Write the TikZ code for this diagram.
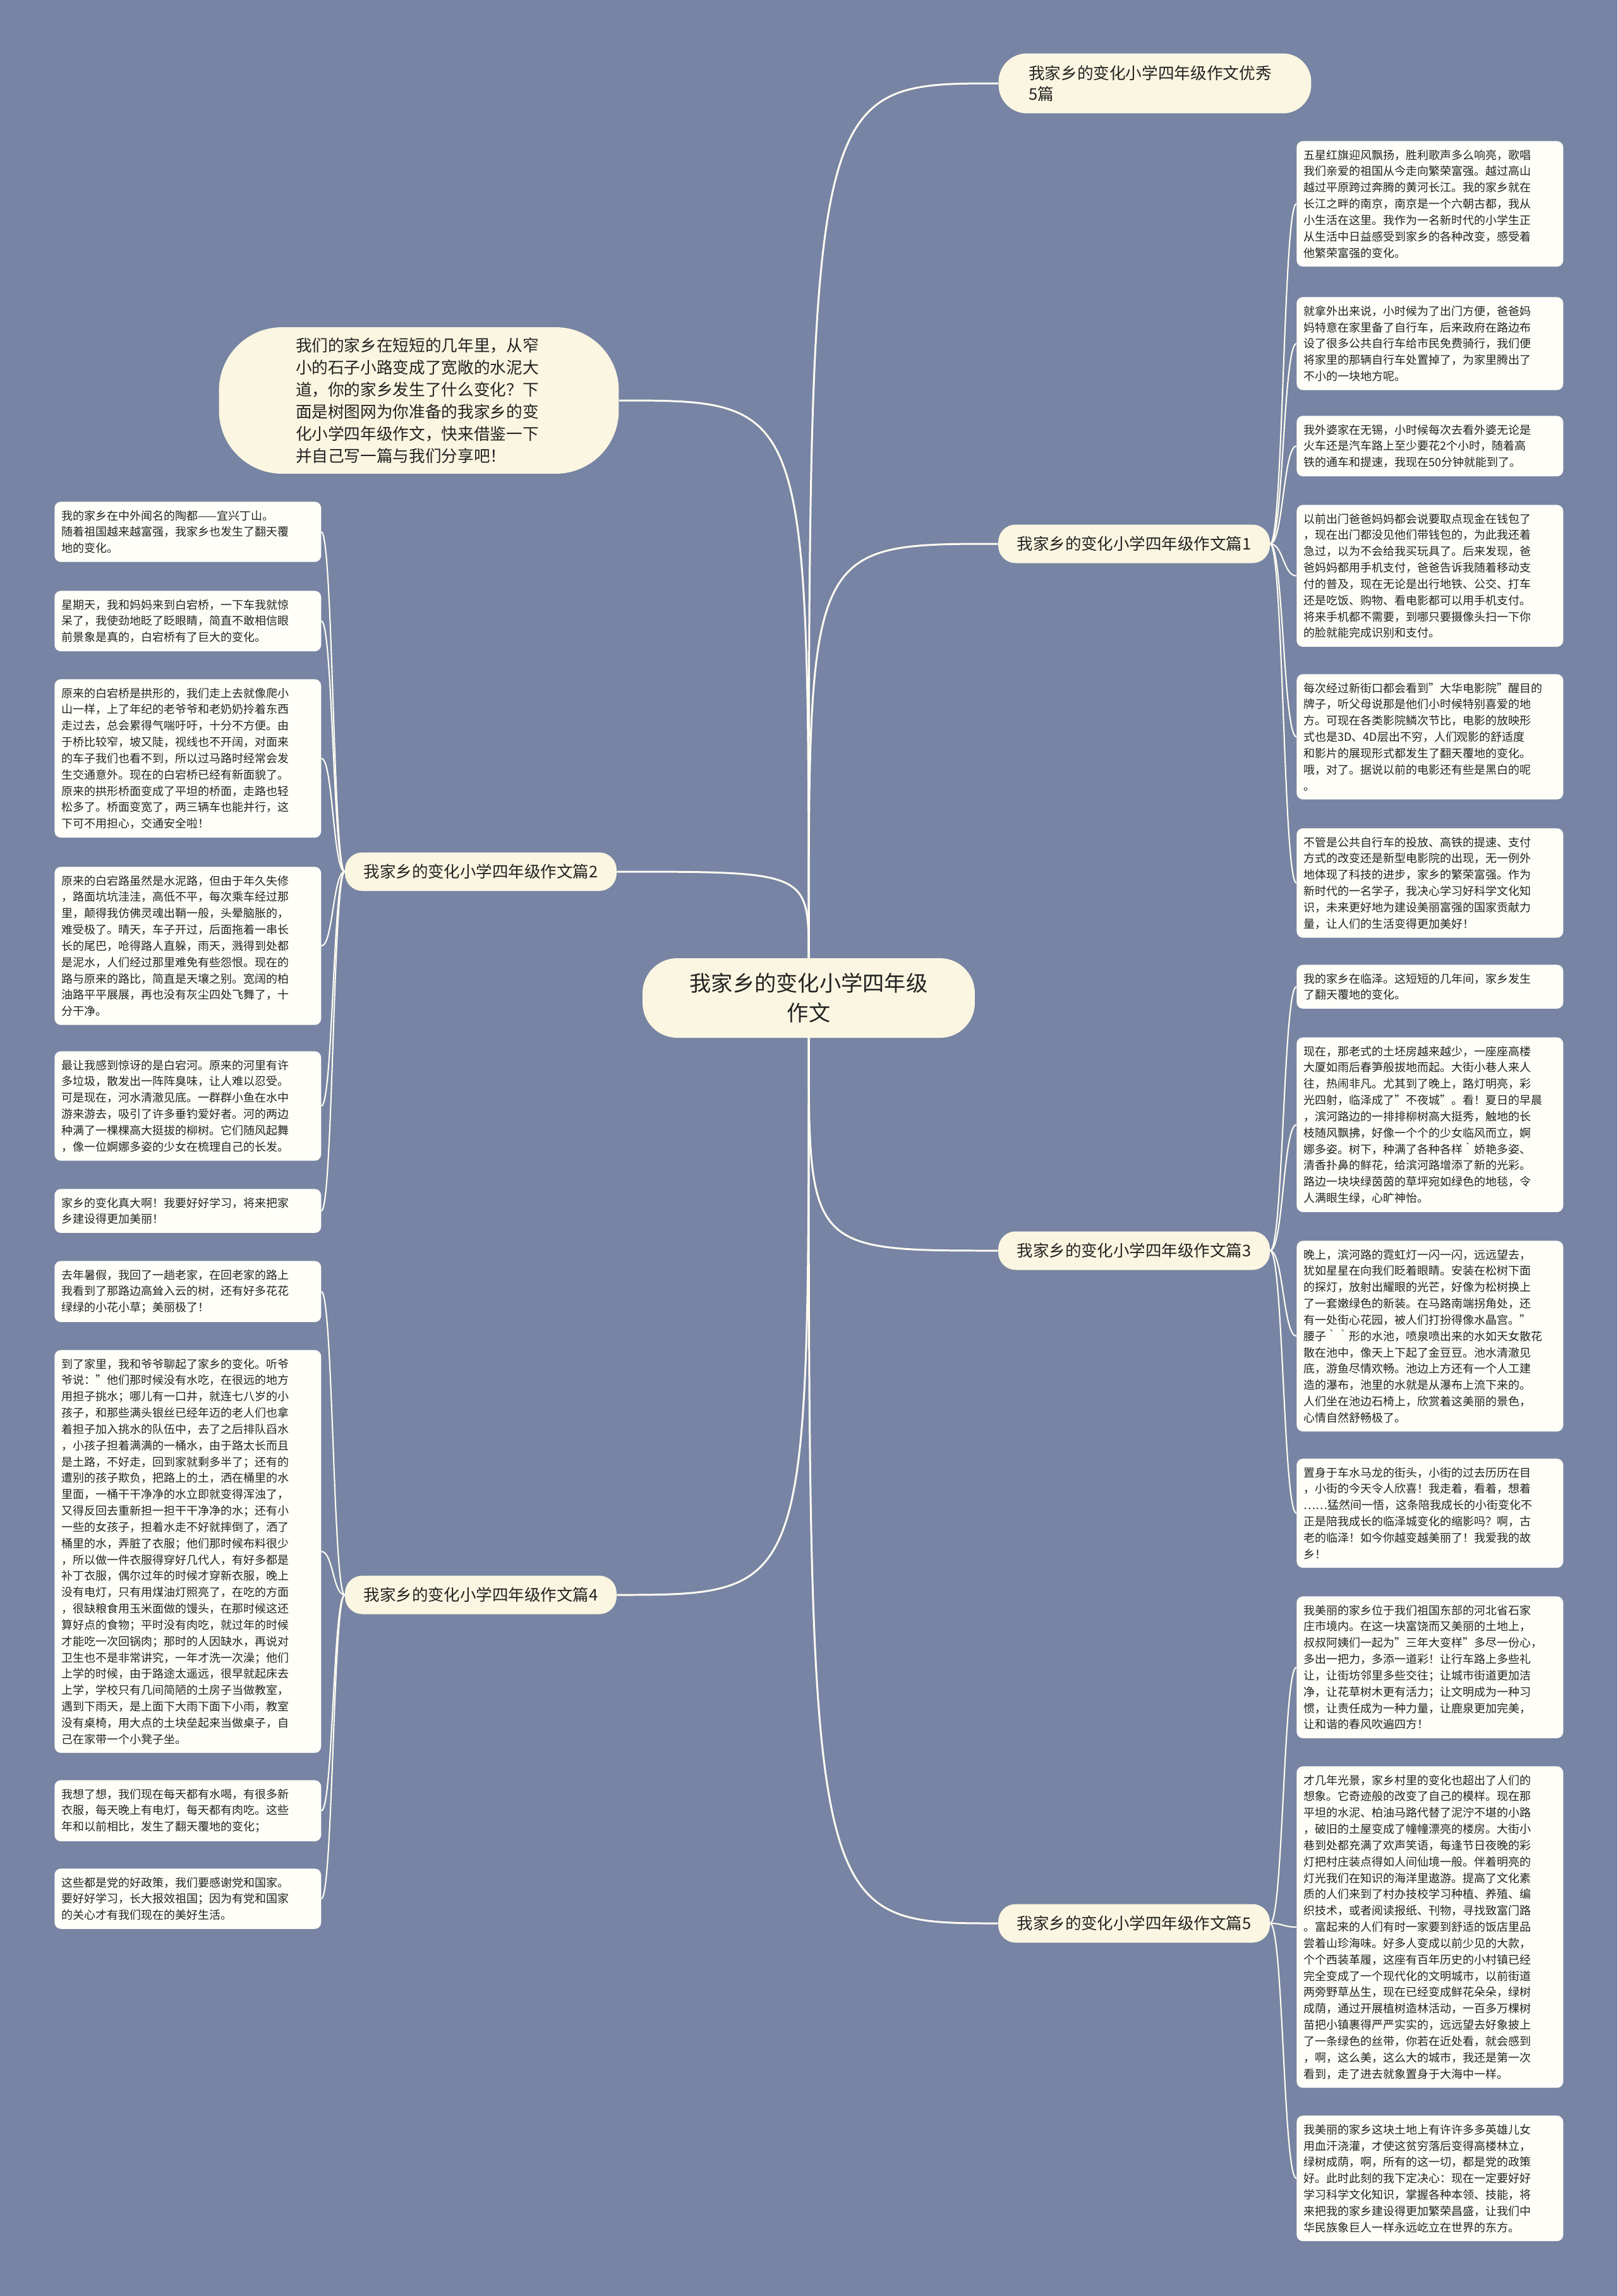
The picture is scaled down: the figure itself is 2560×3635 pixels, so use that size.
\documentclass[tikz,border=0pt]{standalone}
\usepackage{fontspec}
\usepackage{tikz}
\usepackage{xcolor}
\setmainfont{Noto Sans CJK SC}
\usetikzlibrary{calc}
\definecolor{jxbg}{HTML}{7784A3}
\definecolor{jxcream}{HTML}{FBF6E1}
\definecolor{jxpaper}{HTML}{FFFEF8}
\definecolor{jxline}{HTML}{FFFDF2}
\definecolor{jxink}{HTML}{222222}
\tikzset{
  leafBox/.style={fill=jxpaper, rounded corners=0.2cm, text width=8cm, inner xsep=0.22cm, inner ysep=0.27cm, align=left, anchor=north west, text=jxink, font=\fontsize{10.24pt}{14.7pt}\selectfont},
  topicBox/.style={fill=jxcream, rounded corners=0.55cm, minimum width=8.6cm, minimum height=1.22cm, inner sep=0pt, text=jxink, font=\fontsize{14.5pt}{18pt}\selectfont},
  headBox/.style={fill=jxcream, rounded corners=0.9cm, minimum width=9.9cm, minimum height=1.9cm, text width=8cm, align=left, text=jxink, font=\fontsize{14.6pt}{18.8pt}\selectfont},
  introBox/.style={fill=jxcream, rounded corners=2cm, minimum width=12.66cm, minimum height=4.64cm, text width=7.8cm, align=left, text=jxink, font=\fontsize{14.6pt}{19.9pt}\selectfont},
  rootBox/.style={fill=jxcream, rounded corners=1.1cm, minimum width=10.52cm, minimum height=2.52cm, align=center, text=jxink, font=\fontsize{19.5pt}{26.7pt}\selectfont},
  branchLink/.style={draw=jxline, line width=1.7pt, to path={.. controls (\tikztostart |- \tikztotarget) .. (\tikztotarget)}},
  leafLink/.style={draw=jxline, line width=1.2pt, to path={.. controls ($(\tikztostart)!0.5!(\tikztostart -| \tikztotarget)$) and ($(\tikztotarget)!0.5!(\tikztostart |- \tikztotarget)$) .. (\tikztotarget)}}
}

\begin{document}
\begin{tikzpicture}[x=0.02cm,y=-0.02cm]
  \fill[jxbg] (0,0) rectangle (2560,3635);
  \node[rootBox] (root) at (1280,1580) {我家乡的变化小学四年级\\作文};
  \node[headBox] (head) at (1828,132) {我家乡的变化小学四年级作文优秀\\5篇};
  \node[introBox] (intro) at (663,634) {我们的家乡在短短的几年里，从窄\\小的石子小路变成了宽敞的水泥大\\道，你的家乡发生了什么变化？下\\面是树图网为你准备的我家乡的变\\化小学四年级作文，快来借鉴一下\\并自己写一篇与我们分享吧！};
  \node[topicBox] (b1) at (1795,861) {我家乡的变化小学四年级作文篇1};
  \node[topicBox] (b2) at (761,1380) {我家乡的变化小学四年级作文篇2};
  \node[topicBox] (b3) at (1795,1980) {我家乡的变化小学四年级作文篇3};
  \node[topicBox] (b4) at (761,2525) {我家乡的变化小学四年级作文篇4};
  \node[topicBox] (b5) at (1795,3045) {我家乡的变化小学四年级作文篇5};
  \foreach \tgt in {head.west, intro.east, b1.west, b2.east}
    \draw[branchLink] (root.north) to (\tgt);
  \foreach \tgt in {b3.west, b4.east, b5.west}
    \draw[branchLink] (root.south) to (\tgt);

  \foreach \nm/\ty/\txt in {
    r1a/223/{五星红旗迎风飘扬，胜利歌声多么响亮，歌唱\\我们亲爱的祖国从今走向繁荣富强。越过高山\\越过平原跨过奔腾的黄河长江。我的家乡就在\\长江之畔的南京，南京是一个六朝古都，我从\\小生活在这里。我作为一名新时代的小学生正\\从生活中日益感受到家乡的各种改变，感受着\\他繁荣富强的变化。},
    r1b/470/{就拿外出来说，小时候为了出门方便，爸爸妈\\妈特意在家里备了自行车，后来政府在路边布\\设了很多公共自行车给市民免费骑行，我们便\\将家里的那辆自行车处置掉了，为家里腾出了\\不小的一块地方呢。},
    r1c/658/{我外婆家在无锡，小时候每次去看外婆无论是\\火车还是汽车路上至少要花2个小时，随着高\\铁的通车和提速，我现在50分钟就能到了。},
    r1d/799/{以前出门爸爸妈妈都会说要取点现金在钱包了\\，现在出门都没见他们带钱包的，为此我还着\\急过，以为不会给我买玩具了。后来发现，爸\\爸妈妈都用手机支付，爸爸告诉我随着移动支\\付的普及，现在无论是出行地铁、公交、打车\\还是吃饭、购物、看电影都可以用手机支付。\\将来手机都不需要，到哪只要摄像头扫一下你\\的脸就能完成识别和支付。},
    r1e/1067/{每次经过新街口都会看到"大华电影院"醒目的\\牌子，听父母说那是他们小时候特别喜爱的地\\方。可现在各类影院鳞次节比，电影的放映形\\式也是3D、4D层出不穷，人们观影的舒适度\\和影片的展现形式都发生了翻天覆地的变化。\\哦，对了。据说以前的电影还有些是黑白的呢\\。},
    r1f/1311/{不管是公共自行车的投放、高铁的提速、支付\\方式的改变还是新型电影院的出现，无一例外\\地体现了科技的进步，家乡的繁荣富强。作为\\新时代的一名学子，我决心学习好科学文化知\\识，未来更好地为建设美丽富强的国家贡献力\\量，让人们的生活变得更加美好！}
  }{
    \node[leafBox] (\nm) at (2052,\ty) {\txt};
    \draw[leafLink] (b1.east) to (\nm.west);
  }

  \foreach \nm/\ty/\txt in {
    r3a/1527/{我的家乡在临泽。这短短的几年间，家乡发生\\了翻天覆地的变化。},
    r3b/1642/{现在，那老式的土坯房越来越少，一座座高楼\\大厦如雨后春笋般拔地而起。大街小巷人来人\\往，热闹非凡。尤其到了晚上，路灯明亮，彩\\光四射，临泽成了"不夜城"。看！夏日的早晨\\，滨河路边的一排排柳树高大挺秀，触地的长\\枝随风飘拂，好像一个个的少女临风而立，婀\\娜多姿。树下，种满了各种各样｀娇艳多姿、\\清香扑鼻的鲜花，给滨河路增添了新的光彩。\\路边一块块绿茵茵的草坪宛如绿色的地毯，令\\人满眼生绿，心旷神怡。},
    r3c/1964/{晚上，滨河路的霓虹灯一闪一闪，远远望去，\\犹如星星在向我们眨着眼睛。安装在松树下面\\的探灯，放射出耀眼的光芒，好像为松树换上\\了一套嫩绿色的新装。在马路南端拐角处，还\\有一处街心花园，被人们打扮得像水晶宫。"\\腰子｀｀形的水池，喷泉喷出来的水如天女散花\\散在池中，像天上下起了金豆豆。池水清澈见\\底，游鱼尽情欢畅。池边上方还有一个人工建\\造的瀑布，池里的水就是从瀑布上流下来的。\\人们坐在池边石椅上，欣赏着这美丽的景色，\\心情自然舒畅极了。},
    r3d/2309/{置身于车水马龙的街头，小街的过去历历在目\\，小街的今天令人欣喜！我走着，看着，想着\\……猛然间一悟，这条陪我成长的小街变化不\\正是陪我成长的临泽城变化的缩影吗？啊，古\\老的临泽！如今你越变越美丽了！我爱我的故\\乡！}
  }{
    \node[leafBox] (\nm) at (2052,\ty) {\txt};
    \draw[leafLink] (b3.east) to (\nm.west);
  }

  \foreach \nm/\ty/\txt in {
    r5a/2527/{我美丽的家乡位于我们祖国东部的河北省石家\\庄市境内。在这一块富饶而又美丽的土地上，\\叔叔阿姨们一起为"三年大变样"多尽一份心，\\多出一把力，多添一道彩！让行车路上多些礼\\让，让街坊邻里多些交往；让城市街道更加洁\\净，让花草树木更有活力；让文明成为一种习\\惯，让责任成为一种力量，让鹿泉更加完美，\\让和谐的春风吹遍四方！},
    r5b/2796/{才几年光景，家乡村里的变化也超出了人们的\\想象。它奇迹般的改变了自己的模样。现在那\\平坦的水泥、柏油马路代替了泥泞不堪的小路\\，破旧的土屋变成了幢幢漂亮的楼房。大街小\\巷到处都充满了欢声笑语，每逢节日夜晚的彩\\灯把村庄装点得如人间仙境一般。伴着明亮的\\灯光我们在知识的海洋里遨游。提高了文化素\\质的人们来到了村办技校学习种植、养殖、编\\织技术，或者阅读报纸、刊物，寻找致富门路\\。富起来的人们有时一家要到舒适的饭店里品\\尝着山珍海味。好多人变成以前少见的大款，\\个个西装革履，这座有百年历史的小村镇已经\\完全变成了一个现代化的文明城市，以前街道\\两旁野草丛生，现在已经变成鲜花朵朵，绿树\\成荫，通过开展植树造林活动，一百多万棵树\\苗把小镇裹得严严实实的，远远望去好象披上\\了一条绿色的丝带，你若在近处看，就会感到\\，啊，这么美，这么大的城市，我还是第一次\\看到，走了进去就象置身于大海中一样。},
    r5c/3349/{我美丽的家乡这块土地上有许许多多英雄儿女\\用血汗浇灌，才使这贫穷落后变得高楼林立，\\绿树成荫，啊，所有的这一切，都是党的政策\\好。此时此刻的我下定决心：现在一定要好好\\学习科学文化知识，掌握各种本领、技能，将\\来把我的家乡建设得更加繁荣昌盛，让我们中\\华民族象巨人一样永远屹立在世界的东方。}
  }{
    \node[leafBox] (\nm) at (2052,\ty) {\txt};
    \draw[leafLink] (b5.east) to (\nm.west);
  }

  \foreach \nm/\ty/\txt in {
    l2a/794/{我的家乡在中外闻名的陶都——宜兴丁山。\\随着祖国越来越富强，我家乡也发生了翻天覆\\地的变化。},
    l2b/935/{星期天，我和妈妈来到白宕桥，一下车我就惊\\呆了，我使劲地眨了眨眼睛，简直不敢相信眼\\前景象是真的，白宕桥有了巨大的变化。},
    l2c/1075/{原来的白宕桥是拱形的，我们走上去就像爬小\\山一样，上了年纪的老爷爷和老奶奶拎着东西\\走过去，总会累得气喘吁吁，十分不方便。由\\于桥比较窄，坡又陡，视线也不开阔，对面来\\的车子我们也看不到，所以过马路时经常会发\\生交通意外。现在的白宕桥已经有新面貌了。\\原来的拱形桥面变成了平坦的桥面，走路也轻\\松多了。桥面变宽了，两三辆车也能并行，这\\下可不用担心，交通安全啦！},
    l2d/1372/{原来的白宕路虽然是水泥路，但由于年久失修\\，路面坑坑洼洼，高低不平，每次乘车经过那\\里，颠得我仿佛灵魂出鞘一般，头晕脑胀的，\\难受极了。晴天，车子开过，后面拖着一串长\\长的尾巴，呛得路人直躲，雨天，溅得到处都\\是泥水，人们经过那里难免有些怨恨。现在的\\路与原来的路比，简直是天壤之别。宽阔的柏\\油路平平展展，再也没有灰尘四处飞舞了，十\\分干净。},
    l2e/1664/{最让我感到惊讶的是白宕河。原来的河里有许\\多垃圾，散发出一阵阵臭味，让人难以忍受。\\可是现在，河水清澈见底。一群群小鱼在水中\\游来游去，吸引了许多垂钓爱好者。河的两边\\种满了一棵棵高大挺拔的柳树。它们随风起舞\\，像一位婀娜多姿的少女在梳理自己的长发。},
    l2f/1882/{家乡的变化真大啊！我要好好学习，将来把家\\乡建设得更加美丽！}
  }{
    \node[leafBox] (\nm) at (86,\ty) {\txt};
    \draw[leafLink] (b2.west) to (\nm.east);
  }

  \foreach \nm/\ty/\txt in {
    l4a/1996/{去年暑假，我回了一趟老家，在回老家的路上\\我看到了那路边高耸入云的树，还有好多花花\\绿绿的小花小草；美丽极了！},
    l4b/2137/{到了家里，我和爷爷聊起了家乡的变化。听爷\\爷说："他们那时候没有水吃，在很远的地方\\用担子挑水；哪儿有一口井，就连七八岁的小\\孩子，和那些满头银丝已经年迈的老人们也拿\\着担子加入挑水的队伍中，去了之后排队舀水\\，小孩子担着满满的一桶水，由于路太长而且\\是土路，不好走，回到家就剩多半了；还有的\\遭别的孩子欺负，把路上的土，洒在桶里的水\\里面，一桶干干净净的水立即就变得浑浊了，\\又得反回去重新担一担干干净净的水；还有小\\一些的女孩子，担着水走不好就摔倒了，洒了\\桶里的水，弄脏了衣服；他们那时候布料很少\\，所以做一件衣服得穿好几代人，有好多都是\\补丁衣服，偶尔过年的时候才穿新衣服，晚上\\没有电灯，只有用煤油灯照亮了，在吃的方面\\，很缺粮食用玉米面做的馒头，在那时候这还\\算好点的食物；平时没有肉吃，就过年的时候\\才能吃一次回锅肉；那时的人因缺水，再说对\\卫生也不是非常讲究，一年才洗一次澡；他们\\上学的时候，由于路途太遥远，很早就起床去\\上学，学校只有几间简陋的土房子当做教室，\\遇到下雨天，是上面下大雨下面下小雨，教室\\没有桌椅，用大点的土块垒起来当做桌子，自\\己在家带一个小凳子坐。},
    l4c/2818/{我想了想，我们现在每天都有水喝，有很多新\\衣服，每天晚上有电灯，每天都有肉吃。这些\\年和以前相比，发生了翻天覆地的变化；},
    l4d/2958/{这些都是党的好政策，我们要感谢党和国家。\\要好好学习，长大报效祖国；因为有党和国家\\的关心才有我们现在的美好生活。}
  }{
    \node[leafBox] (\nm) at (86,\ty) {\txt};
    \draw[leafLink] (b4.west) to (\nm.east);
  }
\end{tikzpicture}
\end{document}
